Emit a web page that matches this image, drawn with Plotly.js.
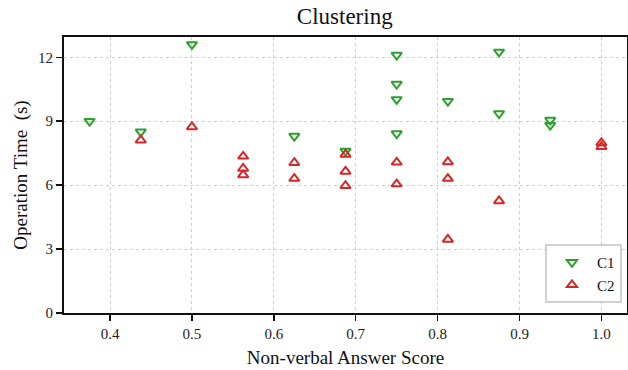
<!DOCTYPE html>
<html>
<head>
<meta charset="utf-8">
<script src="https://cdn.plot.ly/plotly-3.0.1.min.js"></script>
<style>html,body{margin:0;padding:0;background:#fff;}#chart{width:628px;height:370px;}</style>
</head>
<body>
<div id="chart"></div>
<script>
const c1X = [0.375, 0.4375, 0.5, 0.625, 0.6875, 0.75, 0.75, 0.75, 0.75, 0.8125, 0.875, 0.875, 0.9375, 0.9375];
const c1Y = [9.0, 8.5, 12.6, 8.3, 7.6, 12.1, 10.74, 10.02, 8.42, 9.94, 12.25, 9.36, 9.05, 8.81];
const c2X = [0.4375, 0.5, 0.5625, 0.5625, 0.5625, 0.625, 0.625, 0.6875, 0.6875, 0.6875, 0.75, 0.75, 0.8125, 0.8125, 0.8125, 0.875, 1.0, 1.0];
const c2Y = [8.11, 8.73, 7.35, 6.78, 6.48, 7.05, 6.31, 7.44, 6.64, 5.97, 7.07, 6.05, 7.09, 6.31, 3.45, 5.26, 7.98, 7.8];
const xTicks = [0.4, 0.5, 0.6, 0.7, 0.8, 0.9, 1.0];
const xTickText = ['0.4', '0.5', '0.6', '0.7', '0.8', '0.9', '1.0'];
const yTicks = [0, 3, 6, 9, 12];

const font = '"Liberation Serif", "Times New Roman", serif';
const traces = [
  {x: c1X, y: c1Y, name: 'C1', type: 'scatter', mode: 'markers',
   marker: {symbol: 'triangle-down-open', size: 9, color: '#2ca02c', line: {width: 2, color: '#2ca02c'}}},
  {x: c2X, y: c2Y, name: 'C2', type: 'scatter', mode: 'markers',
   marker: {symbol: 'triangle-up-open', size: 9, color: '#d62728', line: {width: 2, color: '#d62728'}}}
];
const axisCommon = {
  showline: true, linecolor: '#111', linewidth: 2, mirror: true,
  ticks: 'outside', ticklen: 6, tickwidth: 1.5, tickcolor: '#111',
  showgrid: true, gridcolor: '#cfcfcf', griddash: 'dot', gridwidth: 1,
  zeroline: false, tickfont: {family: font, size: 15, color: '#222'}
};
const layout = {
  width: 628, height: 370,
  margin: {l: 64, r: 1, t: 37, b: 57},
  paper_bgcolor: '#fff', plot_bgcolor: '#fff',
  font: {family: font},
  title: {text: 'Clustering', font: {family: font, size: 23, color: '#111'}, x: 0.549, xanchor: 'center', y: 0.957, yanchor: 'middle'},
  xaxis: Object.assign({}, axisCommon, {
    range: [0.34375, 1.03125], tickvals: xTicks, ticktext: xTickText,
    title: {text: 'Non-verbal Answer Score', font: {family: font, size: 19, color: '#111'}, standoff: 10}
  }),
  yaxis: Object.assign({}, axisCommon, {
    range: [0, 12.95], tickvals: yTicks,
    title: {text: 'Operation Time  (s)', font: {family: font, size: 19, color: '#111'}, standoff: 5}
  }),
  legend: {x: 0.991, xanchor: 'right', y: 0.036, yanchor: 'bottom',
    bgcolor: '#fff', bordercolor: '#d0d0d0', borderwidth: 2,
    font: {family: font, size: 15, color: '#111'}, itemwidth: 40},
  showlegend: true
};
Plotly.newPlot('chart', traces, layout, {displayModeBar: false, staticPlot: true});
</script>
</body>
</html>
